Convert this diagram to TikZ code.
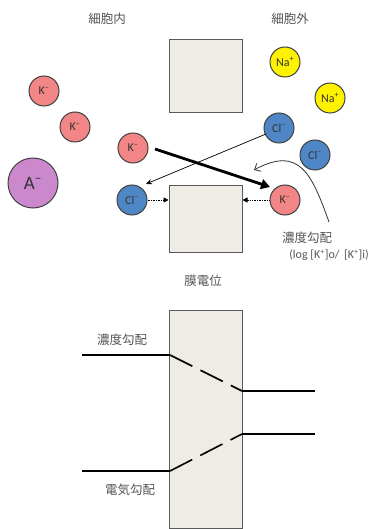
\documentclass[tikz,border=0pt]{standalone}
\usepackage{fontspec}
\setmainfont{Carlito}
\newfontfamily\jp{Noto Sans CJK JP}
\usetikzlibrary{arrows.meta}
\definecolor{boxfill}{HTML}{EEECE5}
\definecolor{boxline}{HTML}{5A5A5A}
\definecolor{kfill}{HTML}{F28585}
\definecolor{nafill}{HTML}{FFF200}
\definecolor{clfill}{HTML}{4F86C6}
\definecolor{afill}{HTML}{CC88CC}
\definecolor{txtgray}{HTML}{555555}
\tikzset{
  x=1pt, y=-1pt,
  ion/.style={circle, draw=black!75, line width=1pt, minimum size=30pt, inner sep=0pt, font=\fontsize{12}{14}\selectfont, text=black!80},
  kion/.style={ion, fill=kfill},
  naion/.style={ion, fill=nafill},
  clion/.style={ion, fill=clfill},
  aion/.style={ion, fill=afill, minimum size=50pt, font=\fontsize{19}{21}\selectfont},
  membrane/.style={draw=boxline, fill=boxfill, line width=1pt},
  jplabel/.style={font=\jp\fontsize{12.5}{14}\selectfont, text=txtgray},
  gradline/.style={line width=1.6pt, black},
  gradDash/.style={line width=1.6pt, black, dash pattern=on 25pt off 9pt},
}
\newcommand{\km}{K\textsuperscript{–}}
\newcommand{\clm}{Cl\textsuperscript{–}}
\newcommand{\nap}{Na\textsuperscript{+}}
\begin{document}
\begin{tikzpicture}
\useasboundingbox (0,0) rectangle (382,529);
% labels
\node[jplabel] (inside) at (107,19) {細胞内};
\node[jplabel] (outside) at (290,19) {細胞外};
% top membrane
\draw[membrane] (169,40) rectangle (242,113);
% ions
\node[kion] (k1) at (44,91) {\km};
\node[kion] (k2) at (75,127) {\km};
\node[kion] (k3) at (133,148) {\km};
\node[kion] (k4) at (285,200) {\km};
\node[naion] (na1) at (285,62) {\nap};
\node[naion] (na2) at (330,98) {\nap};
\node[clion] (cl1) at (279,128) {\clm};
\node[clion] (cl2) at (315,155) {\clm};
\node[clion] (cl3) at (132,200) {\clm};
\node[aion] (a1) at (33,183) {A\textsuperscript{–}};
% middle membrane
\node[membrane, minimum width=73pt, minimum height=66pt, inner sep=0pt] (mem) at (205.5,219) {};
% arrows
\coordinate (thickS) at (155,149);
\coordinate (thickE) at (270,187);
\draw[line width=2.8pt, -{Triangle[length=9pt,width=10pt]}] (thickS) -- (thickE);
\coordinate (thinS) at (266,134);
\coordinate (thinE) at (146,184);
\draw[line width=0.7pt, -{Stealth[length=6pt,width=5pt]}] (thinS) -- (thinE);
\draw[line width=0.7pt, densely dotted, -{Triangle[length=5pt,width=5pt]}] (cl3.east) -- (cl3.east -| mem.west);
\draw[line width=0.7pt, densely dotted, -{Triangle[length=5pt,width=5pt]}] (k4.west) -- (k4.west -| mem.east);
% concentration gradient label
\node[jplabel] (conc) at (307,238) {濃度勾配};
\node[font=\fontsize{12}{14}\selectfont, text=txtgray] (logt) at (329,255) {(log [K\textsuperscript{+}]o/ \,[K\textsuperscript{+}]i)};
\coordinate (curS) at (329,222);
\coordinate (curE) at (254,170);
\draw[line width=0.8pt, black!80, -{Straight Barb[length=5pt,width=9pt]}] (curS) .. controls (312,175) and (300,145) .. (curE);
% membrane potential
\node[jplabel] (mp) at (203,281) {膜電位};
\draw[membrane] (169,310) rectangle (242,528);
% gradient lines
\coordinate (a1L) at (82,355);
\coordinate (a1M) at (170,355);
\coordinate (a1N) at (242,391);
\coordinate (a1R) at (315,391);
\draw[gradline] (a1L) -- (a1M);
\draw[gradDash] (a1M) -- (a1N);
\draw[gradline] (a1N) -- (a1R);
\coordinate (b1L) at (82,471);
\coordinate (b1M) at (170,471);
\coordinate (b1N) at (242,434);
\coordinate (b1R) at (315,434);
\draw[gradline] (b1L) -- (b1M);
\draw[gradDash] (b1M) -- (b1N);
\draw[gradline] (b1N) -- (b1R);
\node[jplabel] (concB) at (122,340) {濃度勾配};
\node[jplabel] (elec) at (130,490) {電気勾配};
\end{tikzpicture}
\end{document}
